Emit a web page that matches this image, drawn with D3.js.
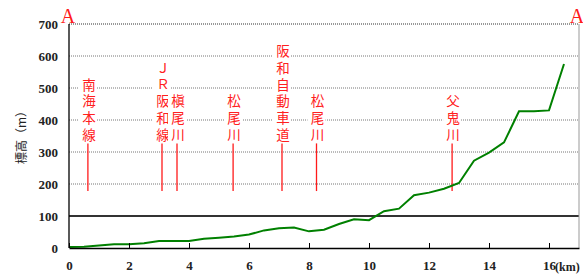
<!DOCTYPE html>
<html>
<head>
<meta charset="utf-8">
<script src="https://cdn.jsdelivr.net/npm/d3@7"></script>
<style>
body { margin: 0; background: #fff; }
</style>
</head>
<body>
<div id="chart"></div>
<script>
// distance (km) and elevation (m) along the route
const dist_km = [0, 0.5, 1, 1.5, 2, 2.5, 3, 3.5, 4, 4.5, 5, 5.5, 6, 6.5, 7, 7.5, 8, 8.5,
                 9, 9.5, 10, 10.5, 11, 11.5, 12, 12.5, 13, 13.5, 14, 14.5, 15, 15.5, 16, 16.5];
const elev_m = [3, 4, 8, 12, 12, 15, 22, 22, 22, 29, 32, 36, 42, 55, 62, 64, 52, 57,
                75, 90, 87, 115, 123, 165, 173, 185, 203, 273, 298, 330, 427, 427, 430, 575];

const x_ticks = [0, 2, 4, 6, 8, 10, 12, 14, 16];
const y_ticks = [0, 100, 200, 300, 400, 500, 600, 700];

// crossing points: label, position (km)
const cross_names = ["南海本線", "ＪＲ阪和線", "槇尾川", "松尾川", "阪和自動車道", "松尾川", "父鬼川"];
const cross_km = [0.63, 3.1, 3.6, 5.47, 7.1, 8.25, 12.77];
const cross_line_top = 330;
const cross_line_bottom = 178;

const width = 583, height = 276;
const m_left = 69, m_right = 579, m_top = 24, m_bottom = 248;

const svg = d3.select("#chart").append("svg")
  .attr("width", width)
  .attr("height", height);

const x = d3.scaleLinear().domain([0, 17]).range([m_left, m_right]);
const y = d3.scaleLinear().domain([0, 700]).range([m_bottom, m_top]);

// grid lines
svg.append("g").selectAll("line")
  .data(y_ticks.filter(d => d >= 200))
  .join("line")
  .attr("x1", m_left).attr("x2", m_right)
  .attr("y1", d => y(d)).attr("y2", d => y(d))
  .attr("stroke", "#777")
  .attr("stroke-width", d => d == 700 ? 1.5 : 1)
  .attr("stroke-dasharray", "1,1");

svg.append("line")
  .attr("x1", m_left).attr("x2", m_right)
  .attr("y1", y(100)).attr("y2", y(100))
  .attr("stroke", "#333")
  .attr("stroke-width", 2);

// right border
svg.append("line")
  .attr("x1", m_right).attr("x2", m_right)
  .attr("y1", m_top).attr("y2", m_bottom)
  .attr("stroke", "#999")
  .attr("stroke-width", 1);

// crossing labels (vertical text)
const cross = svg.append("g");
const step = 16.8;
const lastY = 135;
cross_names.forEach((name, i) => {
  const cx = x(cross_km[i]);
  const n = Array.from(name).length;
  const topY = lastY - step * (n - 1) - step / 2;
  cross.append("rect")
    .attr("x", cx - 9).attr("y", topY)
    .attr("width", 18).attr("height", step * n)
    .attr("fill", "#fff");
  cross.append("line")
    .attr("x1", cx).attr("x2", cx)
    .attr("y1", y(cross_line_top) + 1).attr("y2", y(cross_line_bottom))
    .attr("stroke", "#ff1a1a")
    .attr("stroke-width", 1.3);
  cross.append("text")
    .attr("x", cx + 1)
    .attr("y", topY + 1.5)
    .style("writing-mode", "vertical-rl")
    .style("letter-spacing", (step - 13.5) + "px")
    .attr("font-family", "Noto Sans CJK JP")
    .attr("font-size", 13.5)
    .attr("fill", "#ff2020")
    .text(name);
});

// elevation line
svg.append("path")
  .datum(dist_km.map((d, i) => [d, elev_m[i]]))
  .attr("fill", "none")
  .attr("stroke", "#008000")
  .attr("stroke-width", 2)
  .attr("d", d3.line().x(d => x(d[0])).y(d => y(d[1])));

// axes
svg.append("line")
  .attr("x1", m_left).attr("x2", m_left)
  .attr("y1", m_top).attr("y2", m_bottom)
  .attr("stroke", "#000").attr("stroke-width", 1.3);

const xAxis = svg.append("g")
  .attr("transform", `translate(0,${m_bottom})`)
  .call(d3.axisBottom(x).tickValues(x_ticks).tickSizeInner(-5).tickSizeOuter(0).tickPadding(13));
xAxis.select(".domain").attr("stroke", "#000").attr("stroke-width", 1.5);
xAxis.selectAll(".tick line").attr("stroke", "#000");
xAxis.selectAll("text")
  .attr("font-family", "Liberation Serif")
  .attr("font-weight", "bold")
  .attr("font-size", 13)
  .attr("fill", "#222");

svg.append("text")
  .attr("x", 555).attr("y", 271)
  .attr("font-family", "Liberation Serif")
  .attr("font-weight", "bold")
  .attr("font-size", 12)
  .attr("fill", "#222")
  .text("(km)");

svg.append("g").selectAll("text")
  .data(y_ticks)
  .join("text")
  .attr("x", 58)
  .attr("y", d => y(d))
  .attr("dy", "0.35em")
  .attr("text-anchor", "end")
  .attr("font-family", "Liberation Serif")
  .attr("font-weight", "bold")
  .attr("font-size", 13)
  .attr("fill", "#222")
  .text(d => d);

svg.append("text")
  .attr("transform", "translate(26,164) rotate(-90)")
  .attr("font-family", "Noto Sans CJK JP")
  .attr("font-size", 12)
  .attr("fill", "#222")
  .text("標高（m）");

// section markers
svg.append("text")
  .attr("x", 68).attr("y", 23)
  .attr("text-anchor", "middle")
  .attr("font-family", "Liberation Serif")
  .attr("font-size", 20)
  .attr("fill", "#ff1a1a")
  .text("A");
svg.append("text")
  .attr("x", 577).attr("y", 23)
  .attr("text-anchor", "middle")
  .attr("font-family", "Liberation Serif")
  .attr("font-size", 20)
  .attr("fill", "#ff1a1a")
  .text("A");
</script>
</body>
</html>
